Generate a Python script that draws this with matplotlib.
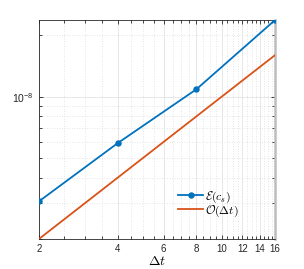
import numpy as np
import matplotlib
matplotlib.use("Agg")
import matplotlib.pyplot as plt
from matplotlib.ticker import FixedLocator, NullFormatter, FixedFormatter, LogLocator

dt = [2, 4, 8, 16]
err_cs = [3.06e-9, 5.91e-9, 1.087e-8, 2.38e-8]
order1 = [2e-9, 4e-9, 8e-9, 1.6e-8]
xtick_vals = [2, 4, 6, 8, 10, 12, 14, 16]
xtick_labels = ['2', '4', '6', '8', '10', '12', '14', '16']

plt.rcParams['font.family'] = ['Liberation Sans', 'DejaVu Sans']
plt.rcParams['mathtext.fontset'] = 'cm'

fig = plt.figure(figsize=(3.04, 2.69), dpi=100)
ax = fig.add_axes([0.128, 0.1115, 0.777, 0.8143])

blue = '#0072BD'
orange = '#D95319'
ax.plot(dt, err_cs, '-o', color=blue, lw=1.3, ms=3.6, label=r'$\mathcal{E}(c_s)$', zorder=3)
ax.plot(dt, order1, '-', color=orange, lw=1.3, label=r'$\mathcal{O}(\Delta t)$', zorder=3)

ax.set_xscale('log')
ax.set_yscale('log')
ax.set_xlim(2, 16)
ax.set_ylim(2e-9, 2.38e-8)

ax.xaxis.set_major_locator(FixedLocator(xtick_vals))
ax.xaxis.set_major_formatter(FixedFormatter(xtick_labels))
minor_x = [v for v in np.arange(2, 16.01, 0.5) if v not in xtick_vals]
ax.xaxis.set_minor_locator(FixedLocator(minor_x))
ax.xaxis.set_minor_formatter(NullFormatter())

ax.yaxis.set_major_locator(FixedLocator([1e-8]))
ax.yaxis.set_major_formatter(FixedFormatter([r'$\mathdefault{10^{-8}}$']))
ax.yaxis.set_minor_locator(LogLocator(base=10, subs=np.arange(2, 10)))
ax.yaxis.set_minor_formatter(NullFormatter())

ax.tick_params(which='both', direction='in', top=True, right=True, labelsize=7, colors='#262626', width=0.6)
ax.tick_params(which='major', length=3)
ax.tick_params(which='minor', length=2)
for lab in ax.get_yticklabels():
    lab.set_fontsize(7.5)

ax.grid(True, which='major', color='#e3e3e3', lw=0.6, ls='-')
ax.grid(True, which='minor', color='#dcdcdc', lw=0.6, ls=(0, (1, 2)))
ax.set_axisbelow(True)

for s in ['left', 'bottom', 'top']:
    ax.spines[s].set_color('#262626')
    ax.spines[s].set_linewidth(0.6)
ax.spines['right'].set_color('#bdbdbd')
ax.spines['right'].set_linewidth(1.8)

ax.set_xlabel(r'$\Delta t$', fontsize=10, labelpad=0)

leg = ax.legend(loc='lower right', bbox_to_anchor=(0.88, 0.055), frameon=False, fontsize=8.5,
                handlelength=2.1, handletextpad=0.15, labelspacing=-0.1, borderpad=0.2)

fig.savefig('out.png', dpi=100)
